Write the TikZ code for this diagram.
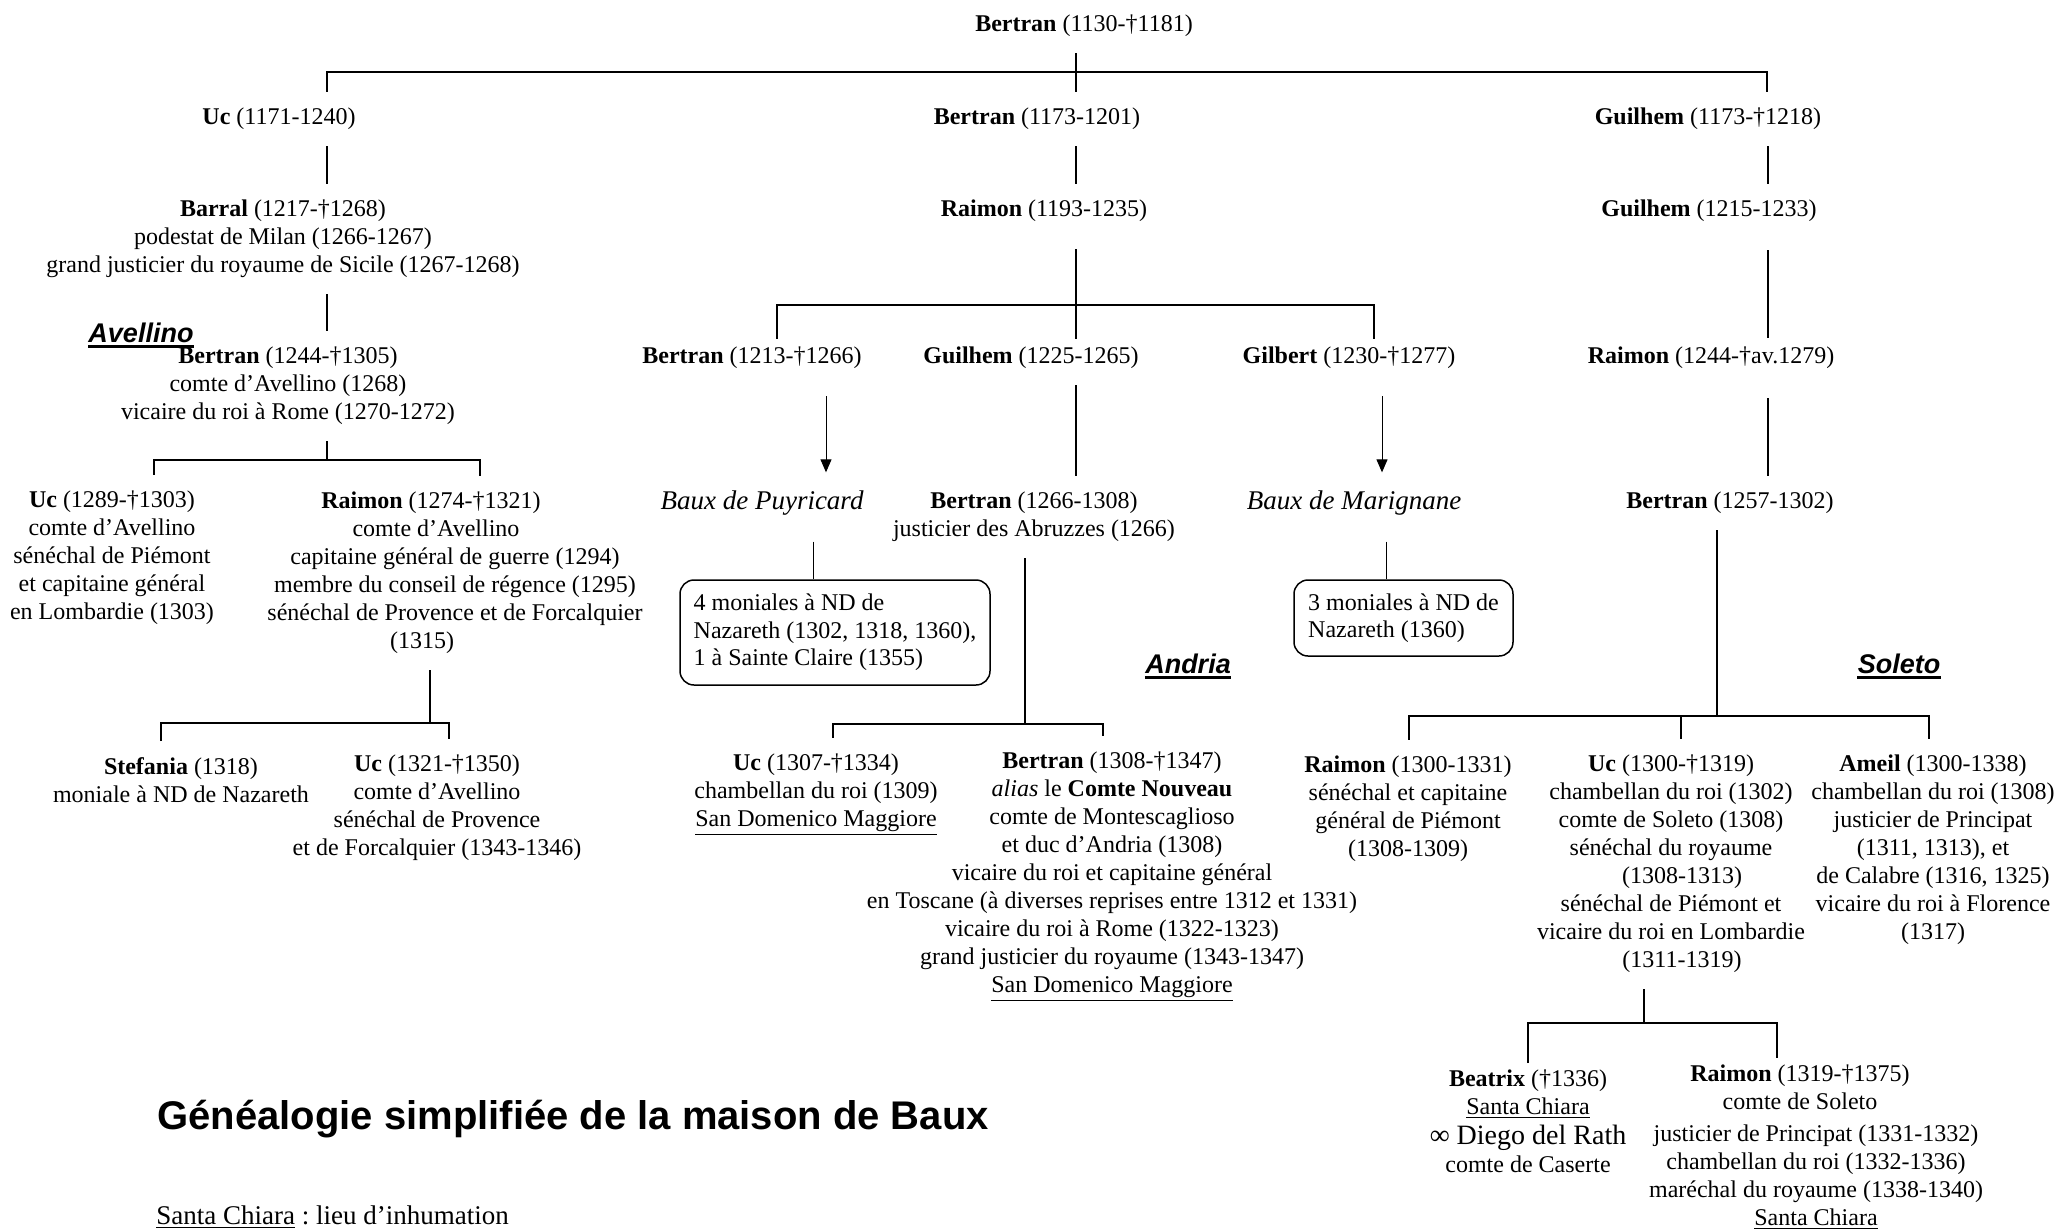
\documentclass[tikz,border=0pt]{standalone}
\usepackage{fontspec}
\setmainfont{Liberation Serif}
\newfontfamily\arialfont{Liberation Sans}
\usetikzlibrary{arrows.meta}

\newcommand{\lpad}[1]{\rule{#1}{0pt}}
\frenchspacing

\begin{document}
\begin{tikzpicture}[x=0.5pt, y=-0.5pt,
    every node/.style={inner sep=0pt, font=\fontsize{12}{14}\selectfont},
    person/.style={align=center, inner xsep=0pt, inner ysep=8pt},
    house/.style={person, font=\itshape\fontsize{13.5}{16}\selectfont},
    famline/.style={line width=1.05pt},
    thinlink/.style={line width=0.5pt},
    descent/.style={line width=0.5pt, -{Triangle[width=5.5pt, length=6.5pt]}},
    nuns/.style={draw, line width=0.75pt, rounded corners=7pt, align=left,
        inner xsep=6.8pt, font=\fontsize{12}{13.75}\selectfont},
    branchlabel/.style={font=\arialfont\bfseries\itshape\fontsize{13.5}{16}\selectfont,
        inner xsep=0pt, inner ysep=2pt, anchor=base},
    labelrule/.style={line width=1.2pt}
]
    \useasboundingbox (0,0) rectangle (2066,1231);

    % Bertran (1130) and sons
    \node[person] (bertranA) at (1084,26) {\textbf{Bertran} (1130-†1181)};
    \node[person] (ucA) at (279,119) {\textbf{Uc} (1171-1240)};
    \node[person] (bertranB) at (1037,119) {\textbf{Bertran} (1173-1201)};
    \node[person] (guilhemA) at (1708,119) {\textbf{Guilhem} (1173-†1218)};

    \node[person] (barral) at (283,239) {\textbf{Barral} (1217-†1268)\\ podestat de Milan (1266-1267)\\ grand justicier du royaume de Sicile (1267-1268)};
    \node[person] (raimonA) at (1044,211) {\textbf{Raimon} (1193-1235)};
    \node[person] (guilhemB) at (1709,211) {\textbf{Guilhem} (1215-1233)};

    \node[person] (bertranC) at (288,386) {\textbf{Bertran} (1244-†1305)\\ comte d’Avellino (1268)\\ vicaire du roi à Rome (1270-1272)};
    \node[person] (bertranD) at (752,358) {\textbf{Bertran} (1213-†1266)};
    \node[person] (guilhemC) at (1031,358) {\textbf{Guilhem} (1225-1265)};
    \node[person] (gilbert) at (1349,358) {\textbf{Gilbert} (1230-†1277)};
    \node[person] (raimonB) at (1711,358) {\textbf{Raimon} (1244-†av.1279)};

    % Avellino
    \node[person] (ucB) at (112,558) {\textbf{Uc} (1289-†1303)\\ comte d’Avellino\\ sénéchal de Piémont\\ et capitaine général\\ en Lombardie (1303)};
    \node[person] (raimonC) at (455,573) {\textbf{Raimon} (1274-†1321)\lpad{24pt}\\ comte d’Avellino\lpad{19pt}\\ capitaine général de guerre (1294)\\ membre du conseil de régence (1295)\\ sénéchal de Provence et de Forcalquier\\ (1315)\lpad{33pt}};
    \node[person] (stefania) at (181,780) {\textbf{Stefania} (1318)\\ moniale à ND de Nazareth};
    \node[person] (ucE) at (437,808) {\textbf{Uc} (1321-†1350)\\ comte d’Avellino\\ sénéchal de Provence\\ et de Forcalquier (1343-1346)};

    % Puyricard, Andria, Marignane
    \node[house] (puyricard) at (762,503) {Baux de Puyricard};
    \node[person] (bertranE) at (1034,517) {\textbf{Bertran} (1266-1308)\\ justicier des Abruzzes (1266)};
    \node[house] (marignane) at (1354,503) {Baux de Marignane};
    \node[nuns, minimum width=155pt, minimum height=52.5pt] (nunsA) at (835,632.5) {4 moniales à ND de\\ Nazareth (1302, 1318, 1360),\\ 1 à Sainte Claire (1355)};
    \node[nuns, minimum width=109.5pt, minimum height=38pt] (nunsB) at (1403.5,618) {3 moniales à ND de\\ Nazareth (1360)};
    \node[person] (ucC) at (816,795) {\textbf{Uc} (1307-†1334)\\ chambellan du roi (1309)\\ \underline{San Domenico Maggiore}};
    \node[person] (bertranG) at (1112,877) {\textbf{Bertran} (1308-†1347)\\ \textit{alias} le \textbf{Comte Nouveau}\\ comte de Montescaglioso\\ et duc d’Andria (1308)\\ vicaire du roi et capitaine général\\ en Toscane (à diverses reprises entre 1312 et 1331)\\ vicaire du roi à Rome (1322-1323)\\ grand justicier du royaume (1343-1347)\\ \underline{San Domenico Maggiore}};

    % Soleto
    \node[person] (bertranF) at (1730,503) {\textbf{Bertran} (1257-1302)};
    \node[person] (raimonD) at (1408,809) {\textbf{Raimon} (1300-1331)\\ sénéchal et capitaine\\ général de Piémont\\ (1308-1309)};
    \node[person] (ucD) at (1671,864) {\textbf{Uc} (1300-†1319)\\ chambellan du roi (1302)\\ comte de Soleto (1308)\\ sénéchal du royaume\\ \lpad{11pt}(1308-1313)\\ sénéchal de Piémont et\\ vicaire du roi en Lombardie\\ \lpad{11pt}(1311-1319)};
    \node[person] (ameil) at (1933,850) {\textbf{Ameil} (1300-1338)\\ chambellan du roi (1308)\\ justicier de Principat\\ (1311, 1313), et\\ de Calabre (1316, 1325)\\ vicaire du roi à Florence\\ (1317)};
    \node[person] (beatrix) at (1528,1121) {\textbf{Beatrix} (†1336)\\ \underline{Santa Chiara}\\[1pt] {\fontsize{14}{16}\selectfont ∞ Diego del Rath}\\ comte de Caserte};
    \node[person] (raimonE) at (1816,1147) {\textbf{Raimon} (1319-†1375)\lpad{16pt}\\ comte de Soleto\lpad{16pt}\\[2pt] justicier de Principat (1331-1332)\\ chambellan du roi (1332-1336)\\ maréchal du royaume (1338-1340)\\ \underline{Santa Chiara}};

    % branch names
    \node[branchlabel] (avellino) at (141,342) {Avellino};
    \node[branchlabel] (andria) at (1188,673) {Andria};
    \node[branchlabel] (soleto) at (1899,673) {Soleto};
    \draw[labelrule] (avellino.south west) -- (avellino.south east);
    \draw[labelrule] (andria.south west) -- (andria.south east);
    \draw[labelrule] (soleto.south west) -- (soleto.south east);

    % title and legend
    \node[anchor=base west, font=\arialfont\bfseries\fontsize{20}{24}\selectfont] (title) at (157,1129) {Généalogie simplifiée de la maison de Baux};
    \node[anchor=base west, font=\fontsize{13.5}{16}\selectfont] (legend) at (156,1224) {\underline{Santa Chiara} : lieu d’inhumation};

    % columns and buses
    \coordinate (colA) at (327,0);
    \coordinate (colC) at (1768,0);
    \coordinate (colP) at (826,0);
    \coordinate (colM) at (1382,0);
    \coordinate (colPb) at (813,0);
    \coordinate (colMb) at (1386,0);
    \coordinate (bus0) at (1076,72);
    \coordinate (bus0l) at (327,72);
    \coordinate (bus0r) at (1767,72);
    \coordinate (bus1) at (1076,305);
    \coordinate (bus1l) at (777,305);
    \coordinate (bus1r) at (1374,305);
    \coordinate (bus2) at (327,460);
    \coordinate (bus2l) at (154,460);
    \coordinate (bus2r) at (480,460);
    \coordinate (bus3) at (430,723);
    \coordinate (bus3l) at (161,723);
    \coordinate (bus3r) at (449,723);
    \coordinate (bus4) at (1025,724);
    \coordinate (bus4l) at (833,724);
    \coordinate (bus4r) at (1103,724);
    \coordinate (bus5) at (1717,716);
    \coordinate (bus5l) at (1409,716);
    \coordinate (bus5m) at (1681,716);
    \coordinate (bus5r) at (1929,716);
    \coordinate (bus6) at (1644,1023);
    \coordinate (bus6l) at (1528,1023);
    \coordinate (bus6r) at (1777,1023);

    % descent lines
    \draw[famline] (bertranA.south -| bus0) -- (bertranB.north -| bus0);
    \draw[famline] (ucA.north -| bus0l) -- (bus0l) -- (bus0r) -- (guilhemA.north -| bus0r);
    \draw[famline] (ucA.south -| colA) -- (barral.north -| colA);
    \draw[famline] (barral.south -| colA) -- (bertranC.north -| colA);
    \draw[famline] (bertranB.south -| bus0) -- (raimonA.north -| bus0);
    \draw[famline] (guilhemA.south -| colC) -- (guilhemB.north -| colC);
    \draw[famline, shorten <=6pt, shorten >=-3.5pt] (guilhemB.south -| colC) -- (raimonB.north -| colC);
    \draw[famline, shorten <=6.5pt] (raimonB.south -| colC) -- (bertranF.north -| colC);
    \draw[famline, shorten <=5.5pt, shorten >=-4pt] (raimonA.south -| bus1) -- (guilhemC.north -| bus1);
    \draw[famline, shorten <=-4pt, shorten >=-4pt] (bertranD.north -| bus1l) -- (bus1l) -- (bus1r) -- (gilbert.north -| bus1r);
    \draw[descent, shorten <=5.5pt, shorten >=1pt] (bertranD.south -| colP) -- (puyricard.north -| colP);
    \draw[descent, shorten <=5.5pt, shorten >=1pt] (gilbert.south -| colM) -- (marignane.north -| colM);
    \draw[famline] (guilhemC.south -| bus1) -- (bertranE.north -| bus1);
    \draw[thinlink, shorten <=5pt] (puyricard.south -| colPb) -- (nunsA.north -| colPb);
    \draw[thinlink, shorten <=5pt] (marignane.south -| colMb) -- (nunsB.north -| colMb);
    \draw[famline] (bertranC.south -| bus2) -- (bus2);
    \draw[famline] (ucB.north -| bus2l) -- (bus2l) -- (bus2r) -- (raimonC.north -| bus2r);
    \draw[famline] (raimonC.south -| bus3) -- (bus3);
    \draw[famline] (stefania.north -| bus3l) -- (bus3l) -- (bus3r) -- (ucE.north -| bus3r);
    \draw[famline] (bertranE.south -| bus4) -- (bus4);
    \draw[famline] (ucC.north -| bus4l) -- (bus4l) -- (bus4r) -- (bertranG.north -| bus4r);
    \draw[famline] (bertranF.south -| bus5) -- (bus5);
    \draw[famline] (raimonD.north -| bus5l) -- (bus5l) -- (bus5r) -- (ameil.north -| bus5r);
    \draw[famline] (bus5m) -- (ucD.north -| bus5m);
    \draw[famline] (ucD.south -| bus6) -- (bus6);
    \draw[famline, shorten <=-5pt, shorten >=-5pt] (beatrix.north -| bus6l) -- (bus6l) -- (bus6r) -- (raimonE.north -| bus6r);
\end{tikzpicture}
\end{document}
